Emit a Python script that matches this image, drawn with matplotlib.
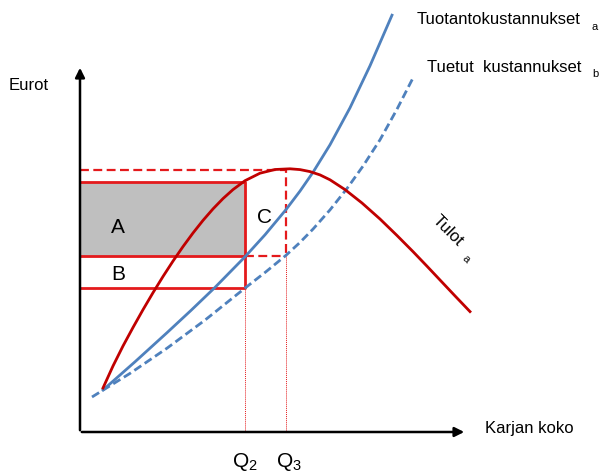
import numpy as np
import matplotlib.pyplot as plt

plt.rcParams['font.family'] = ['Liberation Sans', 'DejaVu Sans']
plt.rcParams['mathtext.fontset'] = 'custom'
plt.rcParams['mathtext.rm'] = 'Liberation Sans'
plt.rcParams['mathtext.it'] = 'Liberation Sans'

# curves (pixel units, y downwards)
tulot_x = [103, 113, 123, 133, 143, 153, 163, 173, 183, 193, 203, 213, 223, 233, 245, 260, 275, 290,
           300, 310, 320, 330, 345, 362, 380, 397, 413, 427, 440, 455, 470]
tulot_y = [389, 367, 347, 328.5, 310.7, 293.7, 277.5, 262.1, 247.6, 234, 221.4, 209.9, 199.6, 190.6, 181.7, 174.2, 170.5, 169.8,
           170.6, 172.6, 175.9, 180.8, 190.6, 204, 220, 236.5, 252.6, 267.2, 281, 296.9, 312.6]

tuot_x = [103, 135, 167, 191, 215, 245, 265, 286, 300, 313, 330, 350, 370, 392]
tuot_y = [391, 362.8, 333.7, 311.4, 288.4, 257.8, 235.8, 210.6, 192.1, 173.3, 145.8, 108.8, 66.8, 16.2]

tuet_x = [92, 130, 167, 205, 245, 266, 286, 300, 313, 330, 347, 363, 380, 397, 414]
tuet_y = [398, 374.4, 349.2, 321.1, 289.1, 272.7, 256.3, 243.4, 230.1, 210.9, 189.5, 167.1, 140.8, 110.2, 77]

q2, q3 = 245, 286
y_peak, y_a, y_mid, y_b = 171, 183, 257, 289
x0, y0 = 80, 433

red = '#E41A1C'
dark_red = '#C00000'
blue = '#4F81BD'

fig = plt.figure(figsize=(6.03, 4.77), dpi=100)
ax = fig.add_axes([0, 0, 1, 1])
ax.set_xlim(0, 603)
ax.set_ylim(477, 0)
ax.axis('off')

# area A (grey) and B
ax.fill_between([x0, q2], y_a, y_mid, color='#BFBFBF', zorder=1)
ax.plot([x0, q2, q2, x0], [y_a, y_a, y_b, y_b], color=red, lw=2, zorder=3)
ax.plot([x0, q2], [y_mid, y_mid], color=red, lw=2, zorder=3)

# dashed box for C
ax.plot([x0, q3, q3], [y_peak, y_peak, y_mid], color=red, lw=1.6, ls=(0, (4, 2)), zorder=3)
ax.plot([q2, q3], [y_mid, y_mid], color=red, lw=1.6, ls=(0, (4, 2)), zorder=3)

# thin guides down to axis
ax.plot([q2, q2], [y_b, y0], color=red, lw=0.7, ls=(0, (1, 1)), zorder=2)
ax.plot([q3, q3], [y_mid, y0], color=red, lw=0.7, ls=(0, (1, 1)), zorder=2)

# curves
ax.plot(tuot_x, tuot_y, color=blue, lw=2, zorder=4, solid_joinstyle='round')
ax.plot(tuet_x, tuet_y, color=blue, lw=2, ls=(0, (3, 1.5)), zorder=4)
ax.plot(tulot_x, tulot_y, color=dark_red, lw=2, zorder=5, solid_joinstyle='round')

# axes
ax.annotate('', xy=(x0, 66), xytext=(x0, y0 + 1),
            arrowprops=dict(arrowstyle='-|>', color='black', lw=1.8, mutation_scale=14))
ax.annotate('', xy=(467, y0), xytext=(x0 - 1, y0),
            arrowprops=dict(arrowstyle='-|>', color='black', lw=1.8, mutation_scale=14))

ax.text(9, 85, 'Eurot', fontsize=12, va='center', ha='left')
ax.text(485, 429, 'Karjan koko', fontsize=12, va='center', ha='left')
ax.text(q2, 462, 'Q$_2$', fontsize=15, ha='center', va='center')
ax.text(q3 + 3, 462, 'Q$_3$', fontsize=15, ha='center', va='center')

ax.text(118, 228, 'A', fontsize=15, ha='center', va='center')
ax.text(118, 275, 'B', fontsize=15, ha='center', va='center')
ax.text(265, 218, 'C', fontsize=15, ha='center', va='center')

ax.text(417, 20, 'Tuotantokustannukset', fontsize=12, ha='left', va='center')
ax.text(592, 27, 'a', fontsize=8, ha='left', va='center')
ax.text(427, 67, 'Tuetut  kustannukset', fontsize=12, ha='left', va='center')
ax.text(592, 74, 'b', fontsize=8, ha='left', va='center')
ax.text(448, 231, 'Tulot', fontsize=12, ha='center', va='center', rotation=-45)
ax.text(466, 259, 'a', fontsize=8, ha='center', va='center', rotation=-45)

fig.savefig('out.png', dpi=100)
